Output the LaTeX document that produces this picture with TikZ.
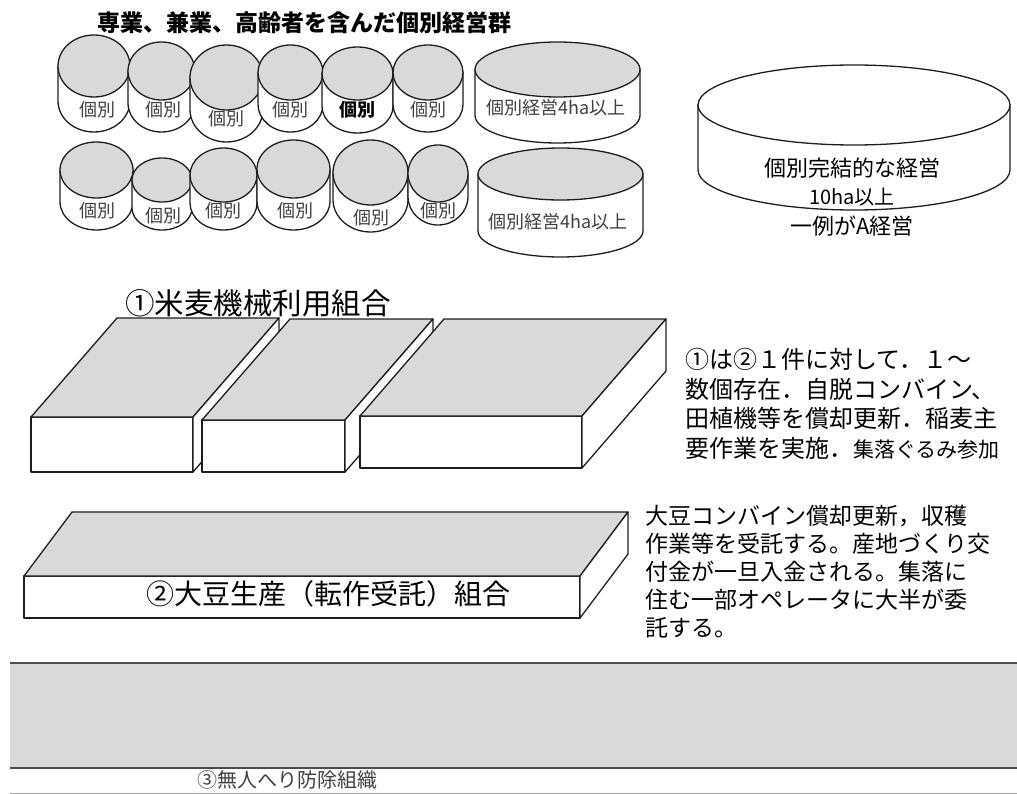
\documentclass[tikz,border=0pt]{standalone}
\usepackage{fontspec}
\setmainfont{Noto Sans CJK JP}
\definecolor{fillgray}{HTML}{D9D9D9}
\definecolor{edgecol}{HTML}{1E1E1E}
\definecolor{labelgray}{HTML}{404040}
\tikzset{
  cylline/.style={draw=edgecol, line width=1.3pt},
  boxline/.style={draw=edgecol, line width=1.3pt, line join=round},
  bandline/.style={draw=black!70, line width=2pt},
  cyltext/.style={inner sep=0pt, text=labelgray, font=\fontsize{18}{20}\selectfont},
  desc/.style={inner sep=0pt, anchor=north west, align=left},
}
% cx, top cy, bottom cy, rx, ry, top fill
\newcommand\cylshape[6]{%
  \filldraw[cylline, fill=white] ({#1-#4},#2) -- ({#1-#4},#3)
    arc[start angle=180, end angle=360, x radius=#4pt, y radius=#5pt] -- ({#1+#4},#2) -- cycle;
  \filldraw[cylline, fill=#6] (#1,#2) ellipse[x radius=#4pt, y radius=#5pt];
}
% x1, x2, ytop, ybot, dx, dy
\newcommand\slabshape[6]{%
  \filldraw[boxline, fill=white] (#1,#3) rectangle (#2,#4);
  \filldraw[boxline, fill=fillgray] (#1,#3) -- ({#1+#5},{#3+#6}) -- ({#2+#5},{#3+#6}) -- (#2,#3) -- cycle;
  \filldraw[boxline, fill=white] (#2,#3) -- ({#2+#5},{#3+#6}) -- ({#2+#5},{#4+#6}) -- (#2,#4) -- cycle;
}
\begin{document}
\begin{tikzpicture}[x=1pt, y=-1pt]
\useasboundingbox (0,0) rectangle (1017,794);

% title
\node[anchor=west, inner sep=0pt, font=\bfseries\fontsize{23}{26}\selectfont] (title) at (97,23) {専業、兼業、高齢者を含んだ個別経営群};

% row 1 cylinders
\cylshape{94}{66}{101}{36}{31}{fillgray}
\cylshape{161.5}{71}{103}{33.5}{29}{fillgray}
\cylshape{226.5}{77.5}{109.5}{36.5}{32.5}{fillgray}
\cylshape{290.5}{72.5}{104.5}{32.5}{27.5}{fillgray}
\cylshape{357.5}{73.5}{106.5}{35.5}{26.5}{fillgray}
\cylshape{428}{72.5}{104.5}{35}{27.5}{fillgray}
\cylshape{557.5}{69.5}{115.5}{82.5}{27.5}{fillgray}
\node[cyltext] (r1a) at (97,110) {個別};
\node[cyltext] (r1b) at (163,110) {個別};
\node[cyltext] (r1c) at (226,119) {個別};
\node[cyltext] (r1d) at (290,110) {個別};
\node[cyltext, text=black, font=\bfseries\fontsize{18}{20}\selectfont] (r1e) at (357,110) {個別};
\node[cyltext] (r1f) at (428,110) {個別};
\node[cyltext] (r1g) at (556,108) {個別経営4ha以上};

% row 2 cylinders
\cylshape{96.5}{170}{202}{36.5}{28}{fillgray}
\cylshape{162}{180}{208}{30}{22}{fillgray}
\cylshape{223.5}{175}{203}{33.5}{27}{fillgray}
\cylshape{293.5}{169}{201}{36.5}{29}{fillgray}
\cylshape{370.5}{172.5}{199.5}{37.5}{32.5}{fillgray}
\cylshape{438}{173.5}{196.5}{30}{28.5}{fillgray}
\cylshape{560.5}{174}{231}{82.5}{26}{fillgray}
\node[cyltext] (r2a) at (97,211) {個別};
\node[cyltext] (r2b) at (163,216) {個別};
\node[cyltext] (r2c) at (223,211) {個別};
\node[cyltext] (r2d) at (295,211) {個別};
\node[cyltext] (r2e) at (371,218) {個別};
\node[cyltext] (r2f) at (438,211) {個別};
\node[cyltext] (r2g) at (558,222) {個別経営4ha以上};

% right large cylinder
\cylshape{854}{105}{170}{156}{40}{white}
\node[inner sep=0pt, font=\fontsize{22}{26}\selectfont] (big1) at (852,168) {個別完結的な経営};
\node[inner sep=0pt, font=\fontsize{20}{24}\selectfont] (big2) at (852,197) {10ha以上};
\node[inner sep=0pt, font=\fontsize{22}{26}\selectfont] (big3) at (852,226) {一例がA経営};

% block group 1
\node[anchor=west, inner sep=0pt, font=\fontsize{29.5}{33}\selectfont] (lab1) at (125,303) {①米麦機械利用組合};
\slabshape{31}{193}{417}{472}{86}{-99}
\slabshape{202}{345}{420}{472}{88}{-101}
\slabshape{360}{582}{416}{468}{84}{-97}

\node[desc, font=\fontsize{24}{29.7}\selectfont] (desc1) at (685,348)
  {①は②１件に対して．１～\\数個存在．自脱コンバイン、\\田植機等を償却更新．稲麦主\\要作業を実施．{\fontsize{21}{29.7}\selectfont 集落ぐるみ参加}};

% block 2
\slabshape{24}{580}{576}{618}{48}{-64}
\node[inner sep=0pt, font=\fontsize{28}{32}\selectfont] (lab2) at (328,594) {②大豆生産（転作受託）組合};

\node[desc, font=\fontsize{23}{28}\selectfont] (desc2) at (645,505)
  {大豆コンバイン償却更新，収穫\\作業等を受託する。産地づくり交\\付金が一旦入金される。集落に\\住む一部オペレータに大半が委\\託する。};

% band 3
\fill[fillgray] (10,663) rectangle (1017,768);
\draw[bandline] (10,663) -- (1017,663);
\draw[bandline] (10,768) -- (1017,768);
\draw[draw=black!35, line width=0.8pt] (10,793) -- (1017,793);
\node[inner sep=0pt, text=labelgray, font=\fontsize{20}{22}\selectfont] (lab3) at (287,780) {③無人へり防除組織};

\end{tikzpicture}
\end{document}
